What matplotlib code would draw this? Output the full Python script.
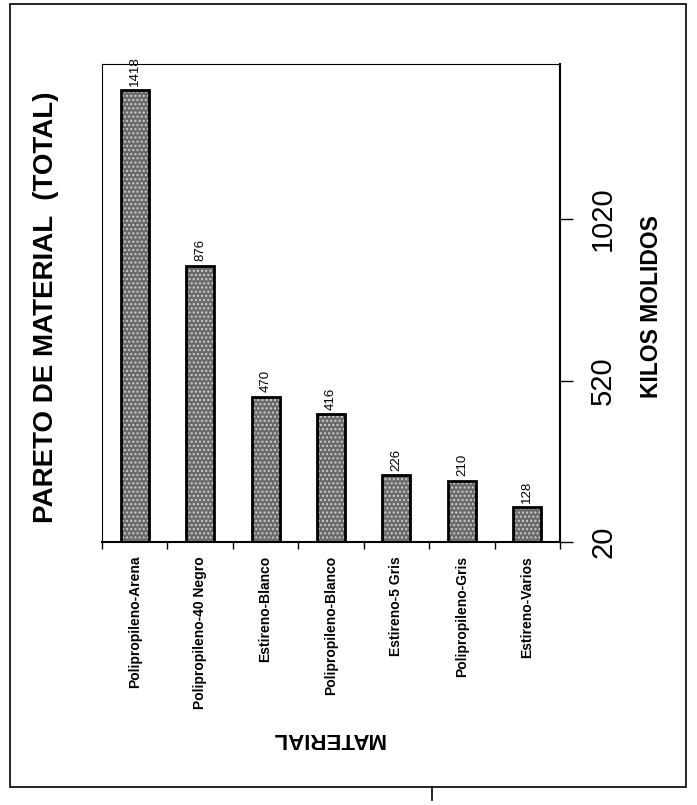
import matplotlib
matplotlib.use("Agg")
import matplotlib.pyplot as plt
from matplotlib.patches import Rectangle
from matplotlib.lines import Line2D
import numpy as np

plt.rcParams['font.family'] = ['Liberation Sans', 'DejaVu Sans']

# Kilos molidos por material
materiales = ["Polipropileno-Arena", "Polipropileno-40 Negro", "Estireno-Blanco",
              "Polipropileno-Blanco", "Estireno-5 Gris", "Polipropileno-Gris",
              "Estireno-Varios"]
kilos = [1418, 876, 470, 416, 226, 210, 128]
ticks_kilos = [20, 520, 1020]

W, H = 697, 805
fig = plt.figure(figsize=(W / 100, H / 100), dpi=100)

# axes placed in pixel terms
left, right, top, bottom = 102, 560, 64, 542
ax = fig.add_axes([left / W, 1 - bottom / H, (right - left) / W, (bottom - top) / H])

x = np.arange(len(materiales))
bar_w = 0.43
# stippled grey fill
ax.bar(x, kilos, width=bar_w, color="#6a6a6a", hatch="....", edgecolor="#cfcfcf",
       linewidth=0, zorder=2)
# solid black outline
ax.bar(x, kilos, width=bar_w, fill=False, edgecolor="black", linewidth=2.0, zorder=3)

for xi, v in zip(x, kilos):
    ax.annotate(str(v), xy=(xi, v), xytext=(0, 3), textcoords="offset points",
                rotation=90, ha="center", va="bottom", fontsize=9.5, zorder=4)

ax.set_xlim(-0.5, len(materiales) - 0.5)
ax.set_ylim(20, 1500)

# category axis
ax.set_xticks(x)
ax.set_xticklabels(materiales, rotation=90, fontsize=10, fontweight="bold")
ax.tick_params(axis="x", which="major", length=0, pad=10)
ax.set_xticks(np.arange(len(materiales) + 1) - 0.5, minor=True)
ax.tick_params(axis="x", which="minor", length=5, width=1, direction="out")

# value axis on the right
ax.yaxis.tick_right()
ax.set_yticks(ticks_kilos)
ax.set_yticklabels([str(t) for t in ticks_kilos], rotation=90, va="center",
                   fontsize=21)
ax.tick_params(axis="y", length=9, width=1, pad=12, direction="out")

for side, lw in [("left", 0.8), ("top", 0.8), ("right", 1.5), ("bottom", 1.5)]:
    ax.spines[side].set_linewidth(lw)
    ax.spines[side].set_color("black")

fig.text(46 / W, 1 - 307 / H, "PARETO DE MATERIAL  (TOTAL)", rotation=90,
         ha="center", va="center", fontsize=20, fontweight="bold")
fig.text(651 / W, 1 - 307 / H, "KILOS MOLIDOS", rotation=90,
         ha="center", va="center", fontsize=16.5, fontweight="bold")
fig.text(328 / W, 1 - 738 / H, "MATERIAL", rotation=180,
         ha="center", va="center", fontsize=16, fontweight="bold")

# outer frame
fig.patches.append(Rectangle((10 / W, 1 - 787 / H), (686 - 10) / W, (787 - 4) / H,
                             transform=fig.transFigure, fill=False,
                             edgecolor="black", linewidth=1.2))
fig.lines.append(Line2D([432 / W, 432 / W], [1 - 787 / H, 1 - 800 / H],
                        transform=fig.transFigure, color="black", linewidth=1.2))

fig.savefig("out.png", dpi=100)
